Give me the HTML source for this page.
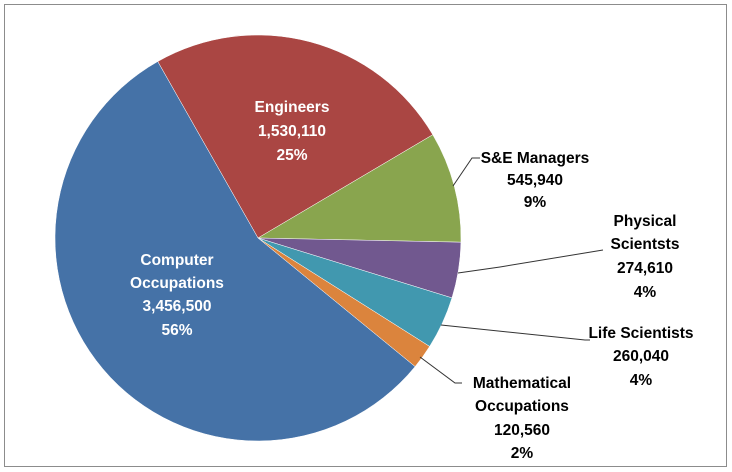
<!DOCTYPE html>
<html><head><meta charset="utf-8"><style>
body{margin:0;background:#fff;}
svg{display:block;font-family:"Liberation Sans",sans-serif;font-weight:bold;font-size:15.5px;}
</style></head><body>
<svg id="c" width="732" height="472">
<rect x="4.5" y="4.5" width="722" height="462" fill="#fff" stroke="#8c8c8c" stroke-width="1"/>
<g id="slices"></g><g id="labels"></g>
</svg>
<script>
const categories=["Engineers","S&E Managers","Physical Scientsts","Life Scientists","Mathematical Occupations","Computer Occupations"];
const values=[1530110,545940,274610,260040,120560,3456500];
const percents=["25%","9%","4%","4%","2%","56%"];
const valueLabels=["1,530,110","545,940","274,610","260,040","120,560","3,456,500"];
const colors=["#aa4643","#89a54e","#71588f","#4198af","#db843d","#4572a7"];
const cx=258,cy=238,r=203,start=-29.6;
const total=values.reduce((a,b)=>a+b,0);
const NS="http://www.w3.org/2000/svg";
const sg=document.getElementById('slices'),lg=document.getElementById('labels');
function pt(a,rr){const t=a*Math.PI/180;return [cx+rr*Math.sin(t),cy-rr*Math.cos(t)];}
let a=start;
values.forEach((v,i)=>{
 const sw=v/total*360,a2=a+sw;
 const p1=pt(a,r),p2=pt(a2,r);
 const p=document.createElementNS(NS,'path');
 p.setAttribute('d',`M${cx},${cy}L${p1[0]},${p1[1]}A${r},${r} 0 ${sw>180?1:0} 1 ${p2[0]},${p2[1]}Z`);
 p.setAttribute('fill',colors[i]);p.setAttribute('stroke','#fff');p.setAttribute('stroke-width','0.5');
 
 
 sg.appendChild(p);a=a2;
});
const lab=[
 {x:292,y:[112,136,160],lines:["Engineers"],fill:"#fff"},
 {x:535,y:[163,185,207],lines:["S&E Managers"],fill:"#000"},
 {x:645,y:[226,249,273,297],lines:["Physical","Scientsts"],fill:"#000"},
 {x:641,y:[338,361,385],lines:["Life Scientists"],fill:"#000"},
 {x:522,y:[388,411,435,458],lines:["Mathematical","Occupations"],fill:"#000"},
 {x:177,y:[265,288,311,335],lines:["Computer","Occupations"],fill:"#fff"}
];
lab.forEach((l,i)=>{
 const txt=[...l.lines,valueLabels[i],percents[i]];
 const t=document.createElementNS(NS,'text');
 t.setAttribute('text-anchor','middle');t.setAttribute('fill',l.fill);
 
 
 txt.forEach((s,j)=>{const ts=document.createElementNS(NS,'tspan');ts.setAttribute('x',l.x);ts.setAttribute('y',l.y[j]);ts.textContent=s;t.appendChild(ts);});
 lg.appendChild(t);
});
const leaders=["453,186 472,158 480,158","458,273 500,267 603,250","441,325 585,340 590,340","420,357 455,383 462,383"];
leaders.forEach((d,i)=>{
 const pl=document.createElementNS(NS,'polyline');
 pl.setAttribute('points',d);pl.setAttribute('fill','none');pl.setAttribute('stroke','#333');pl.setAttribute('stroke-width','1');
 
 
 lg.appendChild(pl);
});
</script>
</body></html>
